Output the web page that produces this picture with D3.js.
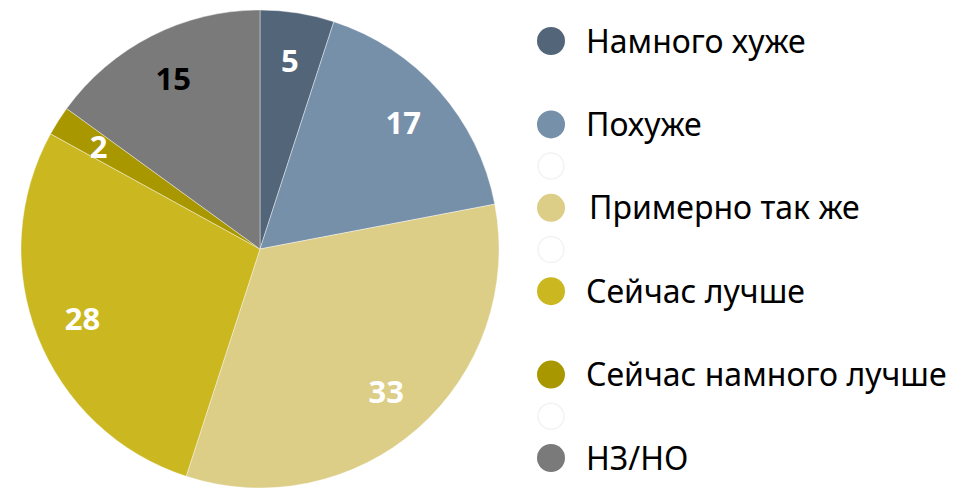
<!DOCTYPE html>
<html>
<head>
<meta charset="utf-8">
<script src="https://cdn.jsdelivr.net/npm/d3@7"></script>
<style>
  body { margin: 0; background: #fff; }
  svg { display: block; }
</style>
</head>
<body>
<svg id="chart"></svg>
<script>
// categories and values
var categories = ["Намного хуже", "Похуже", "Примерно так же", "Сейчас лучше", "Сейчас намного лучше", "НЗ/НО"];
var values = [5, 17, 33, 28, 2, 15];
var colors = ["#536679", "#7790a9", "#dccd87", "#cbb720", "#a99700", "#7a7a7a"];
var labelColors = ["#fff", "#fff", "#fff", "#fff", "#fff", "#000"];

// legend slots: index of category, or -1 for the empty (faint) markers
var legendSlots = [0, null, 1, -1, 2, -1, 3, null, 4, -1, 5];

var svgW = 964;
var svgH = 489;

var cx = 260, cy = 249;
var radius = 239;
var labelR = 191;

var svg = d3.select("#chart")
  .attr("width", svgW)
  .attr("height", svgH);

var data = categories.map(function(c, i){
  return {name: c, value: values[i], color: colors[i], label: labelColors[i]};
});

var pie = d3.pie()
  .sort(null)
  .value(function(d){ return d.value; });

var arc = d3.arc().innerRadius(0).outerRadius(radius);
var labelArc = d3.arc().innerRadius(labelR).outerRadius(labelR);

var g = svg.append("g")
  .attr("transform", "translate(" + cx + "," + cy + ")");

var slices = g.selectAll("g.slice")
  .data(pie(data))
  .enter()
  .append("g")
  .attr("class", "slice");

slices.append("path")
  .attr("d", arc)
  .attr("fill", function(d){ return d.data.color; })
  .attr("stroke", "#fff")
  .attr("stroke-width", 0.4);

slices.append("text")
  .attr("transform", function(d){ return "translate(" + labelArc.centroid(d) + ")"; })
  .attr("text-anchor", "middle")
  .attr("dy", "0.36em")
  .attr("font-family", "'Noto Sans', sans-serif")
  .attr("font-weight", "bold")
  .attr("font-size", 31)
  .attr("fill", function(d){ return d.data.label; })
  .text(function(d){ return d.data.value; });

// legend
var legendX = 551;
var legendY0 = 41;
var legendStep = 41.7;

var legend = svg.append("g").attr("class", "legend");

var items = legend.selectAll("g")
  .data(legendSlots.map(function(s, i){ return {slot: s, i: i}; }).filter(function(d){ return d.slot !== null; }))
  .enter()
  .append("g")
  .attr("transform", function(d){ return "translate(" + legendX + "," + (legendY0 + d.i * legendStep) + ")"; });

items.append("circle")
  .attr("r", function(d){ return d.slot < 0 ? 13 : 14; })
  .attr("fill", function(d){ return d.slot < 0 ? "#fff" : colors[d.slot]; })
  .attr("stroke", function(d){ return d.slot < 0 ? "#f3f3f3" : "none"; })
  .attr("stroke-width", 1.5);

items.filter(function(d){ return d.slot >= 0; })
  .append("text")
  .attr("x", function(d){ return d.slot == 2 ? 38 : 35; })
  .attr("dy", "0.36em")
  .attr("font-family", "'Noto Sans', sans-serif")
  .attr("font-size", 32)
  .attr("fill", "#000")
  .text(function(d){ return categories[d.slot]; });
</script>
</body>
</html>
